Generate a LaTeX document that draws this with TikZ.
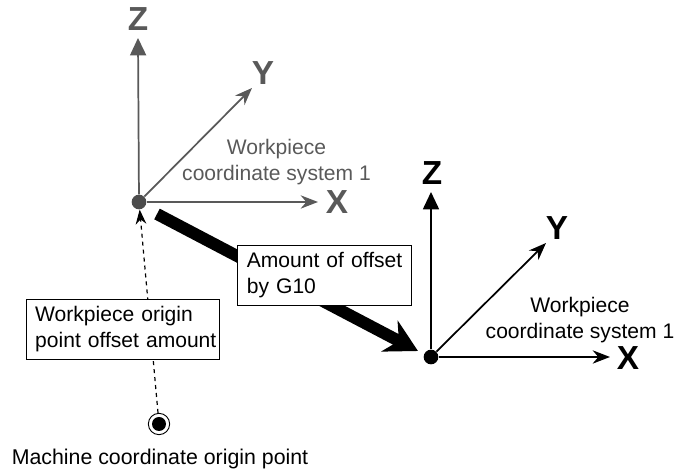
\documentclass[tikz,border=0pt]{standalone}
\usepackage{fontspec}
\setmainfont{Liberation Sans}
\usetikzlibrary{arrows.meta}
\tikzset{
	axisline/.style={line width=1.3pt,-{Stealth[length=13pt,width=10pt]}},
	axisup/.style={line width=1.3pt,-{Triangle[length=13pt,width=12pt]}},
	axislabel/.style={inner sep=0pt,font=\fontsize{25}{25}\selectfont\bfseries},
	noteline/.style={inner sep=0pt,align=center,font=\fontsize{15.8}{19.5}\selectfont},
	notebox/.style={draw,line width=0.8pt,fill=white,inner sep=0pt,align=left,font=\fontsize{15.8}{19.5}\selectfont,minimum height=45pt},
}
\begin{document}
\begin{tikzpicture}[x=0.75pt,y=0.75pt,yscale=-1,xscale=1]
	\useasboundingbox (0,0) rectangle (676,473);
	% points
	\node [circle,fill=black!70,inner sep=0pt,minimum size=11pt] (origa) at (139,202) {};
	\node [circle,fill=black,inner sep=0pt,minimum size=11pt] (origb) at (431,357) {};
	\node [circle,draw,line width=0.7pt,inner sep=0pt,minimum size=16pt] (mach) at (159,424) {};
	\node [circle,fill=black,inner sep=0pt,minimum size=10.5pt] (machdot) at (159,424) {};
	\coordinate (zatip) at (138,38);
	\coordinate (yatip) at (252,88);
	\coordinate (xatip) at (318,202);
	\coordinate (zbtip) at (431,192);
	\coordinate (ybtip) at (546,243);
	\coordinate (xbtip) at (610,357);
	\coordinate (gtail) at (157,214);
	\coordinate (gtip) at (418,351);
	% left axes
	\begin{scope}[black!65]
		\draw [axisup] (origa) -- (zatip);
		\draw [axisline] (origa) -- (yatip);
		\draw [axisline] (origa) -- (xatip);
		\node [axislabel] (zalabel) at (138,19) {Z};
		\node [axislabel] (yalabel) at (263,73) {Y};
		\node [axislabel] (xalabel) at (337,202) {X};
		\node [noteline] (wpa) at (276.5,162) {Workpiece\\coordinate system 1};
	\end{scope}
	% right axes
	\draw [axisup] (origb) -- (zbtip);
	\draw [axisline] (origb) -- (ybtip);
	\draw [axisline] (origb) -- (xbtip);
	\node [axislabel] (zblabel) at (432,173) {Z};
	\node [axislabel] (yblabel) at (557,228) {Y};
	\node [axislabel] (xblabel) at (628,358) {X};
	\node [noteline] (wpb) at (580,320) {Workpiece\\coordinate system 1};
	% offsets
	\draw [dashed,line width=0.9pt,-{Stealth[length=11pt,width=8pt]}] (mach) -- (origa);
	\draw [line width=9pt,-{Stealth[length=24pt,width=26pt]}] (gtail) -- (gtip);
	\node [notebox,text width=116.5pt,inner xsep=7pt,anchor=north west] (offbox) at (237,245) {\mbox{Amount of offset}\\by G10};
	\node [notebox,text width=131.5pt,inner xsep=6.5pt,anchor=north west] (wpbox) at (26,299) {\mbox{Workpiece origin}\\\mbox{point offset amount}};
	\node [noteline,font=\fontsize{16}{19.5}\selectfont] (machlabel) at (160,459) {Machine coordinate origin point};
\end{tikzpicture}
\end{document}
